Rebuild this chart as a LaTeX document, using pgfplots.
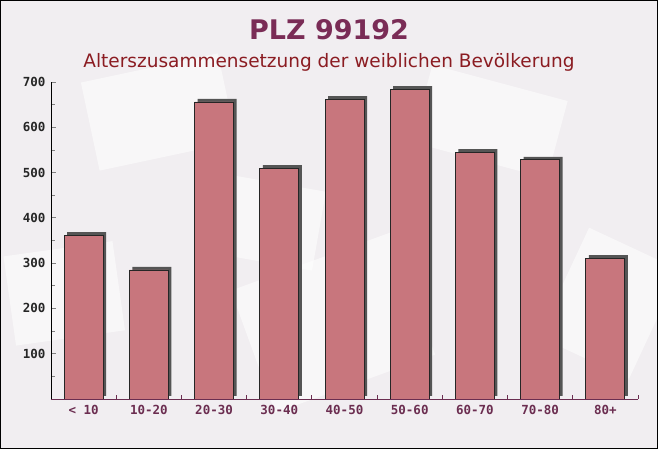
\documentclass[border=0pt]{standalone}
\usepackage{pgfplots}
\pgfplotsset{compat=1.18}
\usepackage{fontspec}
\setmainfont{DejaVu Sans}
\setmonofont{DejaVu Sans Mono}
\definecolor{bg}{HTML}{F1EEF1}
\definecolor{barfill}{HTML}{C8767D}
\definecolor{shadow}{HTML}{555555}
\definecolor{titlecol}{HTML}{7A2C56}
\definecolor{subcol}{HTML}{8B1C22}
\definecolor{xlab}{HTML}{6B2D50}

\pgfplotstableread{
x v
0 362
1 285
2 656
3 510
4 662
5 684
6 545
7 528
8 311
}\agedata

\begin{document}
\begin{tikzpicture}[x=1pt,y=1pt]
\useasboundingbox (0,0) rectangle (658,449);
\fill[bg] (0,0) rectangle (658,449);
% faint envelope shapes in the background
\begin{scope}[white, opacity=0.55]
\clip (0,0) rectangle (658,449);
\fill[rotate around={12:(150,330)}] (90,290) rectangle (230,380);
\fill[rotate around={-15:(480,330)}] (420,290) rectangle (560,370);
\fill[rotate around={20:(330,120)}] (250,60) rectangle (420,190);
\fill[rotate around={-25:(600,150)}] (560,90) rectangle (660,210);
\fill[rotate around={8:(60,150)}] (10,110) rectangle (120,200);
\fill[rotate around={-10:(250,230)}] (200,190) rectangle (320,270);
\end{scope}
\node[anchor=base, text=titlecol, font=\fontsize{27}{27}\selectfont\bfseries] at (329,409) {PLZ 99192};
\node[anchor=base, text=subcol, font=\fontsize{18.5}{18.5}\selectfont] at (329,381) {Alterszusammensetzung der weiblichen Bevölkerung};
\begin{axis}[
  at={(51pt,50pt)}, anchor=south west,
  scale only axis, width=587pt, height=317pt,
  xmin=-0.5, xmax=8.5, ymin=0, ymax=700,
  axis x line=bottom, axis y line=left,
  axis line style={-},
  x axis line style={color=xlab},
  y axis line style={color=black},
  xtick={0,...,8},
  xticklabels={< 10,10-20,20-30,30-40,40-50,50-60,60-70,70-80,80+},
  minor xtick={-0.5,0.5,...,8.5},
  major x tick style={draw=none},
  minor x tick style={color=xlab},
  ytick={100,200,...,700},
  minor ytick={50,150,...,650},
  tick align=inside,
  major tick length=5pt, minor tick length=4pt,
  tick style={line width=0.8pt},
  /pgf/number format/assume math mode=true,
  ticklabel style={font=\ttfamily\bfseries\fontsize{12.5}{12.5}\selectfont},
  yticklabel style={text=black!85, xshift=-2pt},
  xticklabel style={text=xlab, yshift=-3pt},
]
\addplot[ybar, bar width=39pt, bar shift=3pt, yshift=3pt, fill=shadow, draw=none] table[x=x, y=v] {\agedata};
\addplot[ybar, bar width=39pt, bar shift=0pt, fill=barfill, draw=black!85, line width=0.8pt] table[x=x, y=v] {\agedata};
\end{axis}
\draw[black, line width=1pt] (0.5,0.5) rectangle (657.5,448.5);
\end{tikzpicture}
\end{document}
